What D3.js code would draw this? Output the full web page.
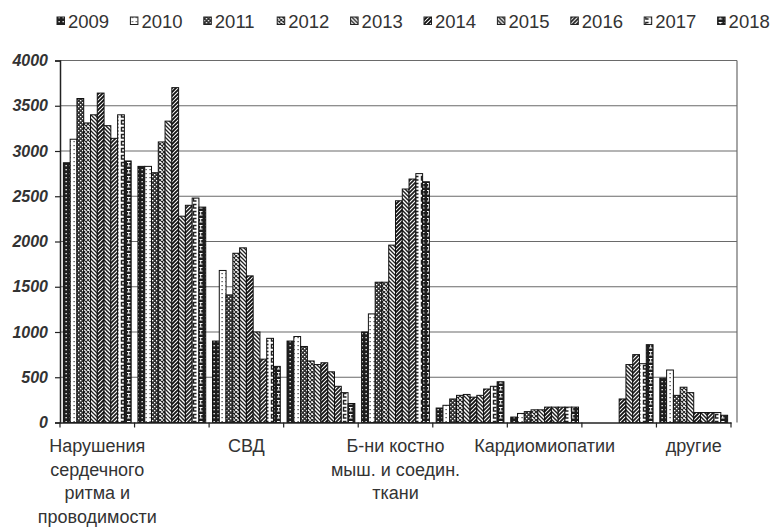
<!DOCTYPE html>
<html><head><meta charset="utf-8">
<script src="https://cdn.jsdelivr.net/npm/d3@7"></script>
<style>
html,body{margin:0;padding:0;background:#fff;}
svg{display:block;font-family:"Liberation Sans",Arial,sans-serif;}
</style></head>
<body><svg id="chart" width="775" height="527"></svg>
<script>
// ---- data ----
const categories = [
  "Нарушения|сердечного|ритма и|проводимости",
  "",
  "СВД",
  "",
  "Б-ни костно|мыш. и соедин.|ткани",
  "",
  "Кардиомиопатии",
  "",
  "другие"
];
const years = ["2009","2010","2011","2012","2013","2014","2015","2016","2017","2018"];
const y2009 = [2870, 2830,  900, 900, 1000, 160,  60,   0, 490];
const y2010 = [3130, 2830, 1680, 950, 1200, 190, 100,   0, 580];
const y2011 = [3580, 2760, 1410, 840, 1550, 260, 120,   0, 300];
const y2012 = [3310, 3100, 1870, 680, 1550, 300, 140,   0, 390];
const y2013 = [3400, 3330, 1930, 640, 1960, 310, 140,   0, 330];
const y2014 = [3640, 3700, 1620, 660, 2450, 280, 170, 260, 110];
const y2015 = [3280, 2280, 1000, 560, 2580, 300, 170, 640, 110];
const y2016 = [3140, 2400,  700, 400, 2690, 370, 170, 750, 110];
const y2017 = [3400, 2480,  930, 330, 2750, 400, 170, 650, 110];
const y2018 = [2890, 2380,  620, 210, 2660, 450, 170, 860,  80];
const yTicks = [0, 500, 1000, 1500, 2000, 2500, 3000, 3500, 4000];

const series = [y2009,y2010,y2011,y2012,y2013,y2014,y2015,y2016,y2017,y2018];

// ---- layout ----
const svg = d3.select("#chart");
const L = 60, R = 731, T = 60.5, B = 422.5, RB = 737;
const x = d3.scaleBand().domain(d3.range(categories.length)).range([L, R]).padding(0);
const xi = d3.scaleBand().domain(d3.range(years.length)).range([0, x.bandwidth()])
  .paddingInner(0).paddingOuter(0.5);
const y = d3.scaleLinear().domain([0, 4000]).range([B, T]);

// ---- patterns ----
const defs = svg.append("defs");
function pat(id, w, h, bg, draw) {
  const p = defs.append("pattern").attr("id", id).attr("patternUnits", "userSpaceOnUse")
    .attr("width", w).attr("height", h);
  p.append("rect").attr("width", w).attr("height", h).attr("fill", bg);
  draw(p);
}
const dk = "#1e1e1e";
pat("p0", 4, 4, dk, p => { p.append("rect").attr("x",1.5).attr("y",1).attr("width",1.3).attr("height",1.3).attr("fill","#fff"); });
pat("p1", 4, 4, "#fff", p => { p.append("rect").attr("x",1.5).attr("y",1).attr("width",1.2).attr("height",1.2).attr("fill","#333"); });
pat("p2", 4, 4, "#333", p => {
  p.append("rect").attr("x",0).attr("y",0).attr("width",1.3).attr("height",1.3).attr("fill","#fff");
  p.append("rect").attr("x",2).attr("y",2).attr("width",1.3).attr("height",1.3).attr("fill","#fff"); });
pat("p3", 4, 4, "#fff", p => {
  p.append("path").attr("d","M0,0L4,4M4,0L0,4").attr("stroke","#222").attr("stroke-width",1.1); });
pat("p4", 4, 4, "#fff", p => {
  p.append("path").attr("d","M-1,-1L5,5M-1,3L1,5M3,-1L5,1").attr("stroke","#222").attr("stroke-width",1.3); });
pat("p5", 4, 4, "#fff", p => {
  p.append("path").attr("d","M-1,5L5,-1M-1,1L1,-1M3,5L5,3").attr("stroke","#111").attr("stroke-width",1.9); });
pat("p6", 4, 4, "#fff", p => {
  p.append("path").attr("d","M-1,-1L5,5M-1,3L1,5M3,-1L5,1").attr("stroke","#222").attr("stroke-width",1.5); });
pat("p7", 4, 4, dk, p => {
  p.append("path").attr("d","M-1,5L5,-1M-1,1L1,-1M3,5L5,3").attr("stroke","#fff").attr("stroke-width",1.1); });
pat("p8", 6, 7, "#fff", p => {
  p.append("path").attr("d","M4.5,1.5H1.5V5H4.5").attr("fill","none").attr("stroke","#222").attr("stroke-width",1.4); });
pat("p9", 6, 7, dk, p => {
  p.append("path").attr("d","M1,1.5H4.5M2.7,1.5V5M1,5H4.5").attr("fill","none").attr("stroke","#fff").attr("stroke-width",1); });

const textCol = "#333";

// ---- grid ----
svg.append("g").selectAll("line").data(yTicks.filter(d => d > 0)).join("line")
  .attr("x1", L).attr("x2", RB).attr("y1", d => y(d)).attr("y2", d => y(d))
  .attr("stroke", "#6a6a6a").attr("stroke-width", 1.2);
svg.append("line").attr("x1", RB).attr("x2", RB).attr("y1", T).attr("y2", B)
  .attr("stroke", "#6a6a6a").attr("stroke-width", 1.2);

// ---- bars ----
const barData = [];
series.forEach((s, si) => s.forEach((v, ci) => barData.push({ si, ci, v })));
svg.append("g").selectAll("rect").data(barData.filter(d => d.v > 0)).join("rect")
  .attr("x", d => x(d.ci) + xi(d.si))
  .attr("y", d => y(d.v))
  .attr("width", xi.bandwidth())
  .attr("height", d => B - y(d.v))
  .attr("fill", d => `url(#p${d.si})`)
  .attr("stroke", "#111").attr("stroke-width", 1);

// ---- axes ----
const yAxis = d3.axisLeft(y).tickValues(yTicks).tickFormat(d3.format("d")).tickSize(5).tickPadding(7);
const gy = svg.append("g").attr("transform", `translate(${L},0)`).call(yAxis);
gy.select(".domain").attr("stroke", "#222").attr("stroke-width", 1.5);
gy.selectAll(".tick line").attr("stroke", "#222").attr("stroke-width", 1.2);
gy.selectAll(".tick text").attr("font-size", 16).attr("font-style", "italic")
  .attr("font-weight", "bold").attr("fill", textCol)
  .attr("font-family", '"Liberation Sans",Arial,sans-serif');

const xAxis = d3.axisBottom(x).tickSize(0).tickFormat("");
const gx = svg.append("g").attr("transform", `translate(0,${B})`).call(xAxis);
gx.select(".domain").attr("stroke", "#222").attr("stroke-width", 1.5);
// boundary ticks
svg.append("g").selectAll("line").data(d3.range(categories.length + 1)).join("line")
  .attr("x1", i => L + i * x.step()).attr("x2", i => L + i * x.step())
  .attr("y1", B).attr("y2", B + 5).attr("stroke", "#222").attr("stroke-width", 1.2);

// category labels
const lab = svg.append("g").selectAll("text").data(categories.map((c, i) => ({ c, i })).filter(d => d.c))
  .join("text")
  .attr("text-anchor", "middle")
  .attr("font-size", 18).attr("fill", textCol)
  .attr("transform", d => `translate(${x(d.i) + x.bandwidth() / 2},452)`);
lab.selectAll("tspan").data(d => d.c.split("|")).join("tspan")
  .attr("x", 0).attr("y", (d, j) => j * 23.6).text(d => d);

// ---- legend ----
const leg = svg.append("g").selectAll("g").data(years).join("g")
  .attr("transform", (d, i) => `translate(${57 + i * 73.4},0)`);
leg.append("rect").attr("x", 0).attr("y", 17).attr("width", 7.5).attr("height", 7.5)
  .attr("fill", (d, i) => `url(#p${i})`).attr("stroke", "#222").attr("stroke-width", 1);
leg.append("text").attr("x", 11).attr("y", 28).attr("font-size", 18.5).attr("fill", textCol).text(d => d);
</script></body></html>
